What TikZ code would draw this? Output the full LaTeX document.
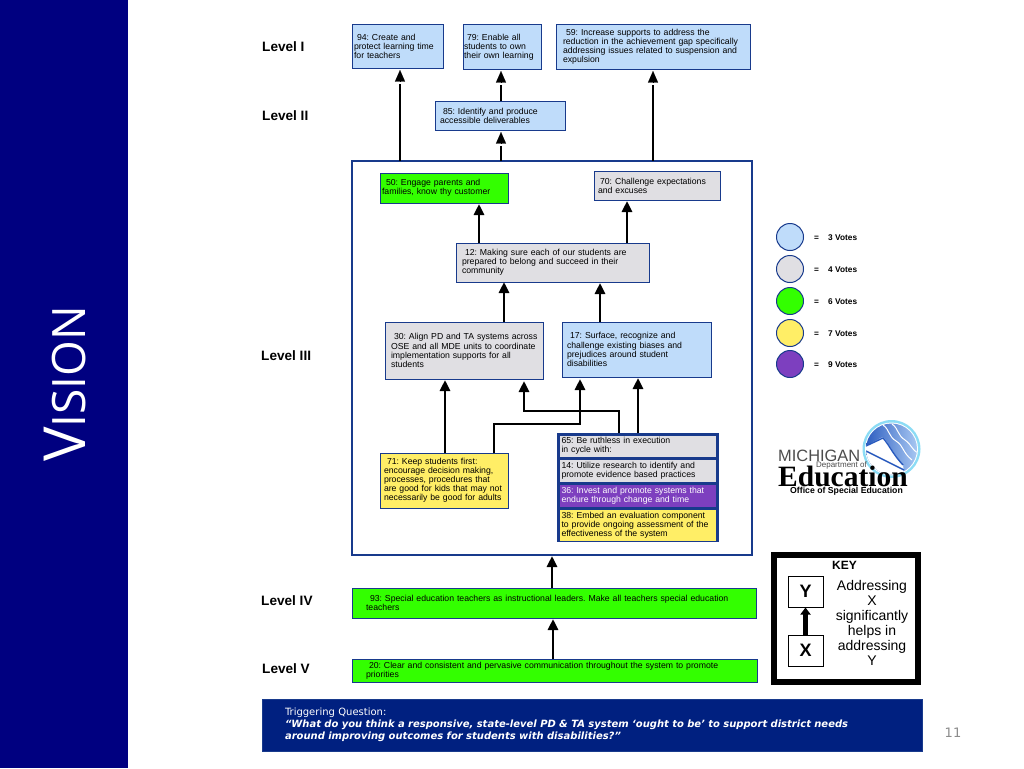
\documentclass[tikz,border=0pt]{standalone}
\usepackage{fontspec}
\setmainfont{Liberation Sans}
\newfontfamily\visionfont{Open Sans}
\newfontfamily\slidefont{DejaVu Sans}
\newfontfamily\logofont{Liberation Serif}
\usetikzlibrary{arrows.meta}
\definecolor{bandnavy}{RGB}{0,0,128}
\definecolor{questnavy}{RGB}{0,32,128}
\definecolor{edgeblue}{RGB}{24,58,140}
\definecolor{voteblue}{RGB}{191,220,250}
\definecolor{votegray}{RGB}{224,223,227}
\definecolor{votegreen}{RGB}{51,255,0}
\definecolor{voteyellow}{RGB}{255,238,102}
\definecolor{votepurple}{RGB}{125,63,191}
\definecolor{logoring}{RGB}{140,220,245}
\definecolor{logodeep}{RGB}{40,90,190}
\definecolor{logopale}{RGB}{175,205,245}
\tikzset{
  databox/.style={draw=edgeblue, line width=1pt, inner xsep=0pt, inner ysep=0pt, outer sep=0pt,
    align=left, font=\fontsize{8.7}{9.1}\selectfont\frenchspacing},
  levellabel/.style={anchor=west, inner sep=0pt, font=\fontsize{13.6}{15}\selectfont\bfseries},
  uparrow/.style={line width=2.8pt, -{Triangle[length=11pt,width=10pt]}, shorten >=1pt},
  shaftline/.style={line width=2.8pt},
  headonly/.style={line width=0.1pt, -{Triangle[length=11.5pt,width=10pt]}, shorten >=2pt},
  votecircle/.style={circle, draw=edgeblue, line width=1pt, minimum size=27pt, inner sep=0pt},
  votetext/.style={anchor=west, inner sep=0pt, font=\fontsize{8.3}{9}\selectfont\bfseries},
  keybox/.style={draw, line width=1pt, minimum width=35pt, minimum height=31pt, font=\fontsize{18}{20}\selectfont\bfseries}
}
\begin{document}
\begin{tikzpicture}[x=1pt,y=-1pt]
  \useasboundingbox (0,0) rectangle (1024,768);

  % Side band with title
  \fill[bandnavy] (0,0) rectangle (128,768);
  \node[rotate=90, anchor=base, inner sep=0pt, text=white, font=\visionfont\fontsize{58}{58}\selectfont] (title) at (85,384) {V\fontsize{46}{46}\selectfont ISION};

  % Level labels
  \foreach \name/\x/\y/\txt in {one/262/47/Level I, two/262/116/Level II, three/261/356/Level III, four/261/601/Level IV, five/262/669/Level V} {
    \node[levellabel] (level\name) at (\x,\y) {\txt};
  }

  % Frame around level three
  \node[draw=edgeblue, line width=2.4pt, minimum width=400pt, minimum height=394pt, inner sep=0pt, outer sep=0pt] (frame) at (552,358) {};

  % Group behind boxes 65, 14, 36, 38
  \node[fill=edgeblue, minimum width=162pt, minimum height=109pt, inner sep=0pt, outer sep=0pt] (group) at (638,487.5) {};

  % Boxes: name/centre x/centre y/width/height/inset/colour/text
  \foreach \name/\x/\y/\w/\h/\ins/\col/\txt in {
    a/397.5/46.5/91/43/2/voteblue/{\hspace*{3pt}94: Create and\\protect learning time\\for teachers},
    b/502/47/78/44/1/voteblue/{\hspace*{3pt}79: Enable all\\students to own\\their own learning},
    c/653/47/194/44/7/voteblue/{\hspace*{3pt}59: Increase supports to address the\\reduction in the achievement gap specifically\\addressing issues related to suspension and\\expulsion},
    d/500/115.5/130/29/5/voteblue/{\hspace*{3pt}85: Identify and produce\\accessible deliverables},
    e/444/188/128/30/2/votegreen/{\hspace*{4pt}50: Engage parents and\\families, know thy customer},
    f/657/185.5/126/29/4/votegray/{\hspace*{2pt}70: Challenge expectations\\and excuses},
    g/552.5/262.5/193/39/6/votegray/{\hspace*{3pt}12: Making sure each of our students are\\prepared to belong and succeed in their\\community},
    h/464/350.5/158/57/6/votegray/{\hspace*{3pt}30: Align PD and TA systems across\\OSE and all MDE units to coordinate\\implementation supports for all\\students},
    i/636.5/349.5/149/55/5/voteblue/{\hspace*{3pt}17: Surface, recognize and\\challenge existing biases and\\prejudices around student\\disabilities},
    j/444/480.5/128/55/4/voteyellow/{\hspace*{3pt}71: Keep students first:\\encourage decision making,\\processes, procedures that\\are good for kids that may not\\necessarily be good for adults},
    k/638/446/157/22/2/votegray/{65: Be ruthless in execution\\in cycle with:},
    l/638/470.5/157/23/2/votegray/{14: Utilize research to identify and\\promote evidence based practices},
    m/638/495.5/157/23/2/votepurple/{\textcolor{white}{36: Invest and promote systems that\\endure through change and time}},
    n/638/525/157/32/2/voteyellow/{38: Embed an evaluation component\\to provide ongoing assessment of the\\effectiveness of the system},
    o/554/603/404/30/14/votegreen/{\hspace*{4pt}93: Special education teachers as instructional leaders. Make all teachers special education\\teachers},
    p/554.5/670.5/405/23/14/votegreen/{\hspace*{3pt}20: Clear and consistent and pervasive communication throughout the system to promote\\priorities}} {
    \node[databox, fill=\col, minimum width=\w pt, minimum height=\h pt, text width=\w pt] (box\name) at (\x,\y) {\leftskip=\ins pt\relax\txt\par};
  }

  % Connectors with a gap under the head
  \foreach \to/\from/\dx in {boxa/frame/2.5, boxb/boxd/-1, boxc/frame/0, boxd/frame/1} {
    \draw[shaftline] ([xshift=\dx pt]\to.south |- \from.north) -- ([xshift=\dx pt,yshift=-16pt]\to.south);
    \draw[headonly] ([xshift=\dx pt,yshift=-13.5pt]\to.south) -- ([xshift=\dx pt]\to.south);
  }

  % Connectors inside the frame
  \draw[uparrow] ([xshift=35pt]boxe.south |- boxg.north) -- ([xshift=35pt]boxe.south);
  \draw[uparrow] ([xshift=-30pt]boxf.south |- boxg.north) -- ([xshift=-30pt]boxf.south);
  \draw[uparrow] ([xshift=40pt]boxh.north) -- ([xshift=40pt,yshift=1pt]boxh.north |- boxg.south);
  \draw[uparrow] ([xshift=-36.5pt]boxi.north) -- ([xshift=-36.5pt]boxi.north |- boxg.south);
  \draw[uparrow] ([xshift=1pt]boxj.north) -- ([xshift=1pt]boxj.north |- boxh.south);
  \draw[uparrow] ([xshift=50pt]boxj.north) |- (580,424) -- (580,378);
  \draw[uparrow] ([xshift=-19pt]group.north) |- (524,411) -- (524,380);
  \draw[uparrow] (group.north) -- (group.north |- boxi.south);
  \draw[uparrow] (boxo.north -| frame.south) -- (frame.south);
  \draw[uparrow] ([xshift=-1.5pt]boxp.north) -- ([xshift=-1.5pt]boxp.north |- boxo.south);

  % Legend of votes
  \foreach \y/\col/\n in {237/voteblue/3, 269/votegray/4, 301/votegreen/6, 333/voteyellow/7, 364/votepurple/9} {
    \node[votecircle, fill=\col] (circle\n) at (790,\y) {};
    \node[votetext] (eq\n) at (814,\y+1) {=};
    \node[votetext] (votes\n) at (828,\y+1) {\n\ Votes};
  }

  % Michigan logo
  \fill[logoring] (891.5,449) circle (29);
  \fill[white] (891.5,449) circle (26.5);
  \begin{scope}
    \clip (891.5,449) circle (25.5);
    \shade[left color=logodeep, right color=logopale] (864,420) rectangle (920,475);
    \fill[white] (860,449) -- (883,437) .. controls (890,445) and (892,452) .. (903,465) -- (905,480) -- (860,480) -- cycle;
    \draw[logodeep, line width=1.4pt] (866,446) -- (883,438) .. controls (890,446) and (892,453) .. (903,465);
    \draw[logodeep, line width=1.4pt] (866,451) -- (904,470);
    \draw[white, line width=1pt] (883,425) .. controls (890,430) and (888,436) .. (896,441) .. controls (904,446) and (902,452) .. (912,460);
    \draw[white, line width=1pt] (892,424) .. controls (899,429) and (897,435) .. (905,440) .. controls (912,445) and (911,449) .. (918,453);
  \end{scope}
  \node[font=\fontsize{16.4}{17}\selectfont, text=black!70, inner sep=0pt, anchor=base west] (logotop) at (778,461) {MICHIGAN};
  \node[font=\fontsize{8}{8}\selectfont, text=black!70, inner sep=0pt, anchor=base east] (logodept) at (867,467) {Department of};
  \node[font=\logofont\fontsize{29.5}{30}\selectfont\bfseries, inner sep=0pt, anchor=base west] (logomain) at (778,486) {Education};
  \node[font=\fontsize{8.7}{9}\selectfont\bfseries, inner sep=0pt, anchor=base] (logosub) at (846.5,493) {Office of Special Education};

  % Key
  \node[draw, line width=6pt, minimum width=144pt, minimum height=127pt, inner sep=0pt] (key) at (846,618.5) {};
  \node[font=\fontsize{12}{14}\selectfont\bfseries] (keytitle) at (844.5,565) {KEY};
  \node[keybox] (keyy) at (805.5,591.5) {Y};
  \node[keybox] (keyx) at (805.5,650.5) {X};
  \draw[line width=5pt, -{Triangle[length=7pt,width=10pt]}] (keyx.north) -- (keyy.south);
  \node[align=center, font=\fontsize{14}{15}\selectfont] (keytext) at (872,622.5) {Addressing\\X\\significantly\\helps in\\addressing\\Y};

  % Triggering question
  \node[fill=questnavy, draw=edgeblue, minimum width=660pt, minimum height=52pt, inner xsep=23pt, inner ysep=0pt, text width=614pt, align=left, text=white, font=\slidefont\fontsize{10}{12.2}\selectfont] (question) at (592,725) {Triggering Question:\\\textbf{\textit{“What do you think a responsive, state-level PD \& TA system ‘ought to be’ to support district needs\\around improving outcomes for students with disabilities?”}}};

  % Page number
  \node[text=black!45, font=\slidefont\fontsize{13}{13}\selectfont] (pagenum) at (953,733) {11};
\end{tikzpicture}
\end{document}
